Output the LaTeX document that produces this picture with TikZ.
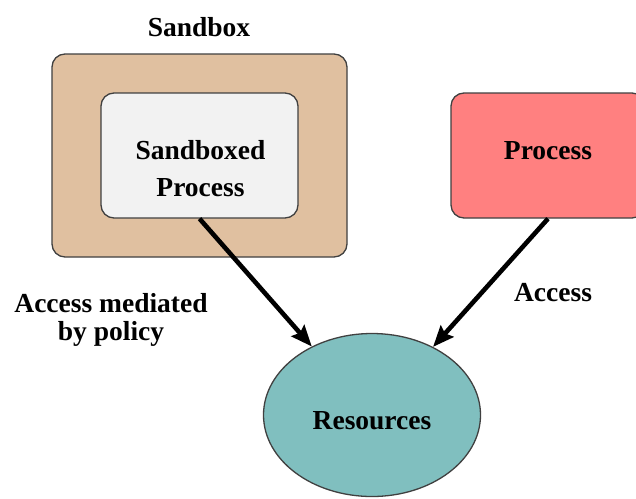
\documentclass[tikz,border=0pt]{standalone}
\usepackage{fontspec}
\setmainfont{Liberation Serif}
\usetikzlibrary{shapes.geometric,arrows.meta}
\definecolor{sandfill}{HTML}{E0C0A0}
\definecolor{innerfill}{HTML}{F2F2F2}
\definecolor{procfill}{HTML}{FF8080}
\definecolor{resfill}{HTML}{80BFBF}
\definecolor{edge}{HTML}{404040}
\tikzset{
  lbl/.style={font=\bfseries\fontsize{27.5}{33}\selectfont, align=center, inner sep=0pt},
  box/.style={draw=edge, line width=1.3pt, rounded corners=13pt, inner sep=0pt},
  conn/.style={line width=4.6pt, -{Stealth[length=21pt,width=17pt,inset=3pt]}},
}
\begin{document}
\begin{tikzpicture}[x=1pt,y=-1pt]
\clip (0,0) rectangle (636,498);
\useasboundingbox (0,0) rectangle (636,498);
\fill[white] (0,0) rectangle (636,498);
\node[box, fill=sandfill, minimum width=295pt, minimum height=203pt] (sb) at (199.5,155.5) {};
\node[box, fill=innerfill, minimum width=197pt, minimum height=125pt] (sp) at (199.5,155.5) {};
\node[lbl, font=\bfseries\fontsize{27.5}{37}\selectfont] (sptext) at (200.5,168.2) {Sandboxed\\Process};
\node[lbl, anchor=base] (sbl) at (199,36) {Sandbox};
\node[box, fill=procfill, minimum width=194pt, minimum height=125pt] (proc) at (548,155.5) {};
\node[lbl, anchor=base] (proctext) at (548,159) {Process};
\node[draw=edge, line width=1.3pt, ellipse, fill=resfill, minimum width=217pt, minimum height=163pt, inner sep=0pt] (res) at (372,415) {};
\node[lbl, anchor=base] (restext) at (372,429) {Resources};
\node[lbl, font=\bfseries\fontsize{27.5}{28}\selectfont] (l1) at (111,319.5) {Access mediated\\by policy};
\node[lbl, anchor=base] (l2) at (553,301) {Access};
\draw[conn] (sp.south) -- (res);
\draw[conn] (proc.south) -- (res);
\end{tikzpicture}
\end{document}
